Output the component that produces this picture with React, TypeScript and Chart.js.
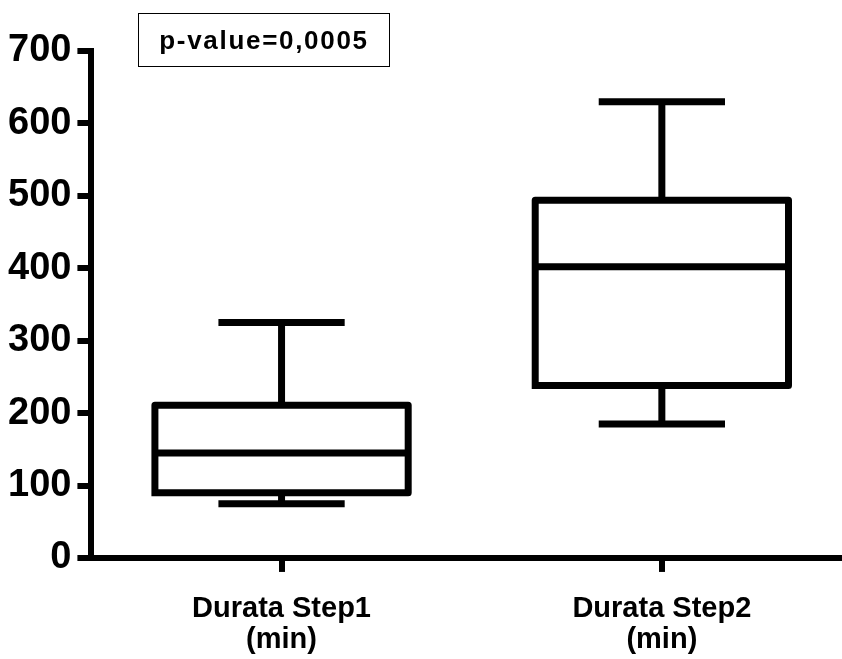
import React, { useEffect, useRef } from "react";
import { Chart, registerables } from "chart.js";

Chart.register(...registerables);

const categories: string[][] = [["Durata Step1", "(min)"], ["Durata Step2", "(min)"]];
const whiskerMin: number[] = [75, 185];
const q1: number[] = [90, 238];
const median: number[] = [145, 402];
const q3: number[] = [211, 494];
const whiskerMax: number[] = [325, 630];
const yTicks: number[] = [0, 100, 200, 300, 400, 500, 600, 700];
const pValueText = "p-value=0,0005";

const BOX_HALF = 0.333;
const CAP_HALF = 0.166;

type Pt = { x: number; y: number | null };

function boxPath(): Pt[] {
  const pts: Pt[] = [];
  categories.forEach((_, i) => {
    const c = i + 1;
    pts.push({ x: c - BOX_HALF, y: q1[i] });
    pts.push({ x: c - BOX_HALF, y: q3[i] });
    pts.push({ x: c + BOX_HALF, y: q3[i] });
    pts.push({ x: c + BOX_HALF, y: q1[i] });
    pts.push({ x: c - BOX_HALF, y: q1[i] });
    pts.push({ x: c + 0.5, y: null });
  });
  return pts;
}

function medianPath(): Pt[] {
  const pts: Pt[] = [];
  categories.forEach((_, i) => {
    const c = i + 1;
    pts.push({ x: c - BOX_HALF, y: median[i] });
    pts.push({ x: c + BOX_HALF, y: median[i] });
    pts.push({ x: c + 0.5, y: null });
  });
  return pts;
}

function whiskerPath(): Pt[] {
  const pts: Pt[] = [];
  categories.forEach((_, i) => {
    const c = i + 1;
    pts.push({ x: c, y: q3[i] });
    pts.push({ x: c, y: whiskerMax[i] });
    pts.push({ x: c + 0.1, y: null });
    pts.push({ x: c, y: q1[i] });
    pts.push({ x: c, y: whiskerMin[i] });
    pts.push({ x: c + 0.5, y: null });
  });
  return pts;
}

function capPath(): Pt[] {
  const pts: Pt[] = [];
  categories.forEach((_, i) => {
    const c = i + 1;
    pts.push({ x: c - CAP_HALF, y: whiskerMax[i] });
    pts.push({ x: c + CAP_HALF, y: whiskerMax[i] });
    pts.push({ x: c + 0.2, y: null });
    pts.push({ x: c - CAP_HALF, y: whiskerMin[i] });
    pts.push({ x: c + CAP_HALF, y: whiskerMin[i] });
    pts.push({ x: c + 0.5, y: null });
  });
  return pts;
}

export default function App() {
  const ref = useRef<HTMLCanvasElement | null>(null);

  useEffect(() => {
    document.body.style.margin = "0";
    if (!ref.current) return;
    const common = {
      type: "line" as const,
      borderColor: "#000",
      pointRadius: 0,
      pointHoverRadius: 0,
      fill: false,
      spanGaps: false,
      tension: 0,
    };
    const chart = new Chart(ref.current, {
      type: "line",
      data: {
        datasets: [
          { ...common, label: "box", data: boxPath(), borderWidth: 7, borderJoinStyle: "round", borderCapStyle: "square" } as any,
          { ...common, label: "median", data: medianPath(), borderWidth: 7, borderCapStyle: "butt" } as any,
          { ...common, label: "whisker", data: whiskerPath(), borderWidth: 7, borderCapStyle: "butt" } as any,
          { ...common, label: "cap", data: capPath(), borderWidth: 7, borderCapStyle: "butt" } as any,
        ],
      },
      options: {
        animation: false,
        responsive: false,
        maintainAspectRatio: false,
        layout: { padding: { left: 2, top: 51, right: 0, bottom: -19 } },
        plugins: { legend: { display: false }, tooltip: { enabled: false }, title: { display: false } },
        scales: {
          x: {
            type: "linear",
            min: 0.5,
            max: 2.4737,
            afterBuildTicks: (scale: any) => {
              scale.ticks = categories.map((_, i) => ({ value: i + 1 }));
            },
            ticks: {
              autoSkip: false,
              maxRotation: 0,
              padding: 22,
              color: "#000",
              font: { family: "'Liberation Sans', Arial, sans-serif", weight: "bold", size: 29, lineHeight: 1.07 },
              callback: (v: any) => categories[Math.round(Number(v)) - 1] ?? "",
            },
            grid: { drawOnChartArea: false, tickLength: 14, lineWidth: 6, color: "#000" },
            border: { display: true, width: 6, color: "#000" },
          },
          y: {
            type: "linear",
            min: 0,
            max: 700,
            afterBuildTicks: (scale: any) => {
              scale.ticks = yTicks.map((v) => ({ value: v }));
            },
            ticks: {
              padding: 6,
              color: "#000",
              font: { family: "'Liberation Sans', Arial, sans-serif", weight: "bold", size: 38 },
            },
            grid: { drawOnChartArea: false, tickLength: 14, lineWidth: 6, color: "#000" },
            border: { display: true, width: 6, color: "#000" },
          },
        },
      },
    });
    return () => chart.destroy();
  }, []);

  return (
    <div style={{ position: "fixed", left: 0, top: 0, width: 842, height: 659, background: "#fff", overflow: "hidden" }}>
      <canvas ref={ref} width={842} height={659} style={{ width: 842, height: 659, display: "block" }} />
      <div
        style={{
          position: "absolute",
          left: 138,
          top: 13,
          width: 252,
          height: 54,
          boxSizing: "border-box",
          border: "1.5px solid #000",
          display: "flex",
          alignItems: "center",
          justifyContent: "center",
          fontFamily: "'Liberation Sans', Arial, sans-serif",
          fontWeight: "bold",
          fontSize: 26,
          letterSpacing: "1.7px",
          color: "#000",
        }}
      >
        {pValueText}
      </div>
    </div>
  );
}
